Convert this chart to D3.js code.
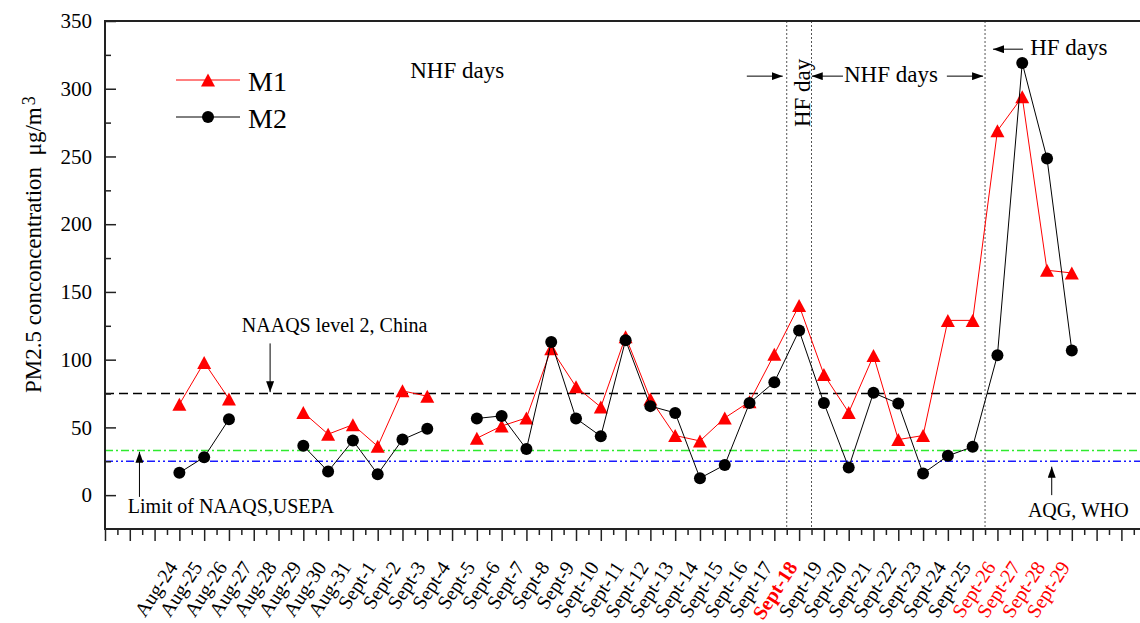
<!DOCTYPE html>
<html>
<head>
<meta charset="utf-8">
<script src="https://cdn.jsdelivr.net/npm/d3@7"></script>
<style>
body { margin: 0; background: #fff; }
svg { display: block; font-family: "Liberation Serif", "Times New Roman", serif; }
</style>
</head>
<body>
<svg id="fig_pm25"></svg>
<script>
'use strict';

// one category per day, Aug-24 .. Sept-29
const days = [
    'Aug-24', 'Aug-25', 'Aug-26', 'Aug-27', 'Aug-28', 'Aug-29', 'Aug-30', 'Aug-31',
    'Sept-1', 'Sept-2', 'Sept-3', 'Sept-4', 'Sept-5', 'Sept-6', 'Sept-7', 'Sept-8',
    'Sept-9', 'Sept-10', 'Sept-11', 'Sept-12', 'Sept-13', 'Sept-14', 'Sept-15', 'Sept-16',
    'Sept-17', 'Sept-18', 'Sept-19', 'Sept-20', 'Sept-21', 'Sept-22', 'Sept-23', 'Sept-24',
    'Sept-25', 'Sept-26', 'Sept-27', 'Sept-28', 'Sept-29'
];
// HF days get red labels, Sept-18 bold
const hf_days = ['Sept-18', 'Sept-26', 'Sept-27', 'Sept-28', 'Sept-29'];
const bold_days = ['Sept-18'];

// PM2.5 (ug/m3), null = no sample
const m1_vals = [
    67, 98, 71, null, null, 61, 45, 52,
    36, 77, 73, null, 42, 51, 57, 108,
    80, 65, 117, 71, 44, 40, 57, 69,
    104, 140, 89, 61, 103, 41, 44, 129,
    129, 269, 294, 166, 164
];
const m2_vals = [
    16.5, 28, 56, null, null, 36.4, 17.5, 40.3,
    15.5, 41, 49, null, 56.6, 58.5, 34, 113,
    56.6, 43.5, 114.4, 65.7, 60.7, 12.5, 22.3, 68,
    83.4, 121.5, 68, 20.4, 75.5, 67.6, 16, 29,
    35.7, 103.3, 319, 248.5, 106.8
];
const series_names = ['M1', 'M2'];

const y_ticks = [0, 50, 100, 150, 200, 250, 300, 350];
const y_minor_ticks = [25, 75, 125, 175, 225, 275, 325];

// limit lines
const limit_names = ['NAAQS level 2, China', 'Limit of NAAQS,USEPA', 'AQG, WHO'];
const limit_vals = [75, 33, 25];

// borders between NHF / HF periods (between days)
const period_bounds = [24.5, 25.5, 32.5];

const fig = {
    svg_id: '#fig_pm25',
    width: 1140,
    height: 623,
    left: 105,
    top: 21,
    bottom: 529,
    day_w: 24.79,
    x_min: -3,
    x_max: 39,
    y_min: -25,
    y_max: 350,
    tick_font: 21,
    label_font: 20,
    note_font: 23,
    small_note_font: 20,
    tri_w: 14,
    tri_h: 13,
    dot_r: 6,
    limit_styles: [
        {color: '#000', dash: '9,5', width: 1.4},
        {color: '#2eea2e', dash: '8,3,2,3', width: 1.6},
        {color: '#1a1aff', dash: '8,3,2,3,2,3', width: 1.4}
    ],
    // annotation texts, placed in data space [day index, value]
    notes: [
        {t: 'NHF days', x: 9.31, y: 307.6, size: 'note_font'},
        {t: 'HF day', x: 25.44, y: 271.7, size: 'note_font', rot: true},
        {t: 'NHF days', x: 26.81, y: 305.1, size: 'note_font'},
        {t: 'HF days', x: 34.32, y: 324.8, size: 'note_font'},
        {t: limit_names[0], x: 2.52, y: 120.5, size: 'small_note_font'},
        {t: limit_names[1], x: -2.08, y: -13.3, size: 'small_note_font'},
        {t: limit_names[2], x: 34.23, y: -16, size: 'small_note_font'}
    ],
    // arrows from (x1, y1) to head at (x2, y2), data space
    arrows: [
        [22.89, 309.3, 24.34, 309.3],
        [26.77, 309.3, 25.51, 309.3],
        [30.96, 309.3, 32.42, 309.3],
        [34.03, 329.2, 32.82, 329.2],
        [3.66, 112, 3.66, 76],
        [-1.61, -1.3, -1.61, 32],
        [35.19, 0, 35.19, 21]
    ],

    draw: function() {
        const _this = this;
        const svg = d3.select(this.svg_id)
            .attr('width', this.width)
            .attr('height', this.height);

        const right = this.left + (this.x_max - this.x_min) * this.day_w;
        const x = d3.scaleLinear()
            .domain([this.x_min, this.x_max])
            .range([this.left, right]);
        const y = d3.scaleLinear()
            .domain([this.y_min, this.y_max])
            .range([this.bottom, this.top]);

        // arrow head
        svg.append('defs').append('marker')
            .attr('id', 'ah')
            .attr('markerUnits', 'userSpaceOnUse')
            .attr('markerWidth', 11).attr('markerHeight', 8)
            .attr('refX', 11).attr('refY', 4)
            .attr('orient', 'auto')
            .append('path')
            .attr('d', 'M0,0 L11,4 L0,8 Z')
            .attr('fill', '#000');

        // limit lines
        svg.selectAll('.limit')
            .data(limit_vals)
            .enter().append('line')
            .attr('class', 'limit')
            .attr('x1', this.left).attr('x2', right)
            .attr('y1', d => y(d)).attr('y2', d => y(d))
            .attr('stroke', (d, i) => _this.limit_styles[i].color)
            .attr('stroke-width', (d, i) => _this.limit_styles[i].width)
            .attr('stroke-dasharray', (d, i) => _this.limit_styles[i].dash);

        // period borders
        svg.selectAll('.bound')
            .data(period_bounds)
            .enter().append('line')
            .attr('class', 'bound')
            .attr('x1', d => x(d)).attr('x2', d => x(d))
            .attr('y1', this.top).attr('y2', this.bottom)
            .attr('stroke', '#555')
            .attr('stroke-width', 1)
            .attr('stroke-dasharray', '2,2');

        // y axis, ticks point inward
        const y_axis = d3.axisLeft(y).tickValues(y_ticks)
            .tickSizeInner(-11).tickSizeOuter(0).tickPadding(13);
        const gy = svg.append('g')
            .attr('transform', 'translate(' + this.left + ',0)')
            .call(y_axis);
        gy.selectAll('text')
            .attr('font-size', this.tick_font)
            .attr('font-family', '"Liberation Serif", serif')
            .attr('fill', '#000');
        const gy2 = svg.append('g')
            .attr('transform', 'translate(' + this.left + ',0)')
            .call(d3.axisLeft(y).tickValues(y_minor_ticks)
                .tickSizeInner(-6).tickSizeOuter(0).tickFormat(''));
        [gy, gy2].forEach(g => {
            g.select('.domain').remove();
            g.selectAll('line').attr('stroke', '#222').attr('stroke-width', 1.5);
        });

        // x axis, ticks point outward, one per day + half-day minor
        const x_major = d3.range(this.x_min, this.x_max + 1);
        const x_minor = d3.range(this.x_min + 0.5, this.x_max, 1);
        const gx = svg.append('g')
            .attr('transform', 'translate(0,' + this.bottom + ')')
            .call(d3.axisBottom(x).tickValues(x_major)
                .tickSizeInner(12).tickSizeOuter(0).tickFormat(''));
        const gx2 = svg.append('g')
            .attr('transform', 'translate(0,' + this.bottom + ')')
            .call(d3.axisBottom(x).tickValues(x_minor)
                .tickSizeInner(6).tickSizeOuter(0).tickFormat(''));
        [gx, gx2].forEach(g => {
            g.select('.domain').remove();
            g.selectAll('line').attr('stroke', '#222').attr('stroke-width', 1.5);
        });

        // x labels, rotated
        svg.selectAll('.xlab')
            .data(days)
            .enter().append('text')
            .attr('class', 'xlab')
            .attr('text-anchor', 'end')
            .attr('font-size', this.label_font)
            .attr('font-weight', d => bold_days.includes(d) ? 'bold' : 'normal')
            .attr('fill', d => hf_days.includes(d) ? '#ff0000' : '#000')
            .attr('transform', (d, i) =>
                'translate(' + (x(i) - 1) + ',' + (this.bottom + 38) + ') rotate(-57)')
            .text(d => d);

        // frame (left, top, bottom; right edge falls off the page)
        svg.append('rect')
            .attr('x', this.left).attr('y', this.top)
            .attr('width', right - this.left)
            .attr('height', this.bottom - this.top)
            .attr('fill', 'none')
            .attr('stroke', '#222')
            .attr('stroke-width', 2);

        // y title
        const yt = svg.append('text')
            .attr('transform', 'translate(41,393) rotate(-90)')
            .attr('font-size', 23)
            .style('white-space', 'pre');
        yt.append('tspan').text('PM2.5 conconcentration  \u03bcg/m');
        yt.append('tspan').attr('font-size', 18).attr('dy', -6).attr('dx', 2).text('3');

        // series lines
        const line = d3.line()
            .defined(d => d != null)
            .x((d, i) => x(i))
            .y(d => y(d));

        svg.append('path')
            .datum(m1_vals)
            .attr('d', line)
            .attr('fill', 'none')
            .attr('stroke', '#ff0000')
            .attr('stroke-width', 1);

        const tri = 'M0,' + (-this.tri_h / 2) + ' L' + (this.tri_w / 2) + ',' + (this.tri_h / 2) +
            ' L' + (-this.tri_w / 2) + ',' + (this.tri_h / 2) + ' Z';
        const m1_pts = m1_vals.map((v, i) => [i, v]).filter(d => d[1] != null);
        svg.selectAll('.m1-pt')
            .data(m1_pts)
            .enter().append('path')
            .attr('class', 'm1-pt')
            .attr('d', tri)
            .attr('transform', d => 'translate(' + x(d[0]) + ',' + y(d[1]) + ')')
            .attr('fill', '#ff0000');

        svg.append('path')
            .datum(m2_vals)
            .attr('d', line)
            .attr('fill', 'none')
            .attr('stroke', '#000')
            .attr('stroke-width', 1);

        const m2_pts = m2_vals.map((v, i) => [i, v]).filter(d => d[1] != null);
        svg.selectAll('.m2-pt')
            .data(m2_pts)
            .enter().append('circle')
            .attr('class', 'm2-pt')
            .attr('cx', d => x(d[0]))
            .attr('cy', d => y(d[1]))
            .attr('r', this.dot_r)
            .attr('fill', '#000');

        // legend
        const lg = [
            {name: series_names[0], ly: 80, color: '#ff0000', mark: 'tri'},
            {name: series_names[1], ly: 117, color: '#000', mark: 'dot'}
        ];
        lg.forEach(l => {
            svg.append('line')
                .attr('x1', 176).attr('x2', 240)
                .attr('y1', l.ly).attr('y2', l.ly)
                .attr('stroke', l.color).attr('stroke-width', 1);
            if (l.mark === 'tri') {
                svg.append('path').attr('d', tri)
                    .attr('transform', 'translate(208,' + l.ly + ')')
                    .attr('fill', l.color);
            } else {
                svg.append('circle').attr('cx', 208).attr('cy', l.ly)
                    .attr('r', _this.dot_r).attr('fill', l.color);
            }
            svg.append('text')
                .attr('x', 248).attr('y', l.ly + 10.5)
                .attr('font-size', 28)
                .text(l.name);
        });

        // annotations
        this.notes.forEach(n => {
            const t = svg.append('text')
                .attr('font-size', _this[n.size])
                .text(n.t);
            if (n.rot) {
                t.attr('transform', 'translate(' + x(n.x) + ',' + y(n.y) + ') rotate(-90)');
            } else {
                t.attr('x', x(n.x)).attr('y', y(n.y));
            }
        });

        svg.selectAll('.arrow')
            .data(this.arrows)
            .enter().append('line')
            .attr('class', 'arrow')
            .attr('x1', d => x(d[0])).attr('y1', d => y(d[1]))
            .attr('x2', d => x(d[2])).attr('y2', d => y(d[3]))
            .attr('stroke', '#000')
            .attr('stroke-width', 1)
            .attr('marker-end', 'url(#ah)');
    }
};

fig.draw();
</script>
</body>
</html>
